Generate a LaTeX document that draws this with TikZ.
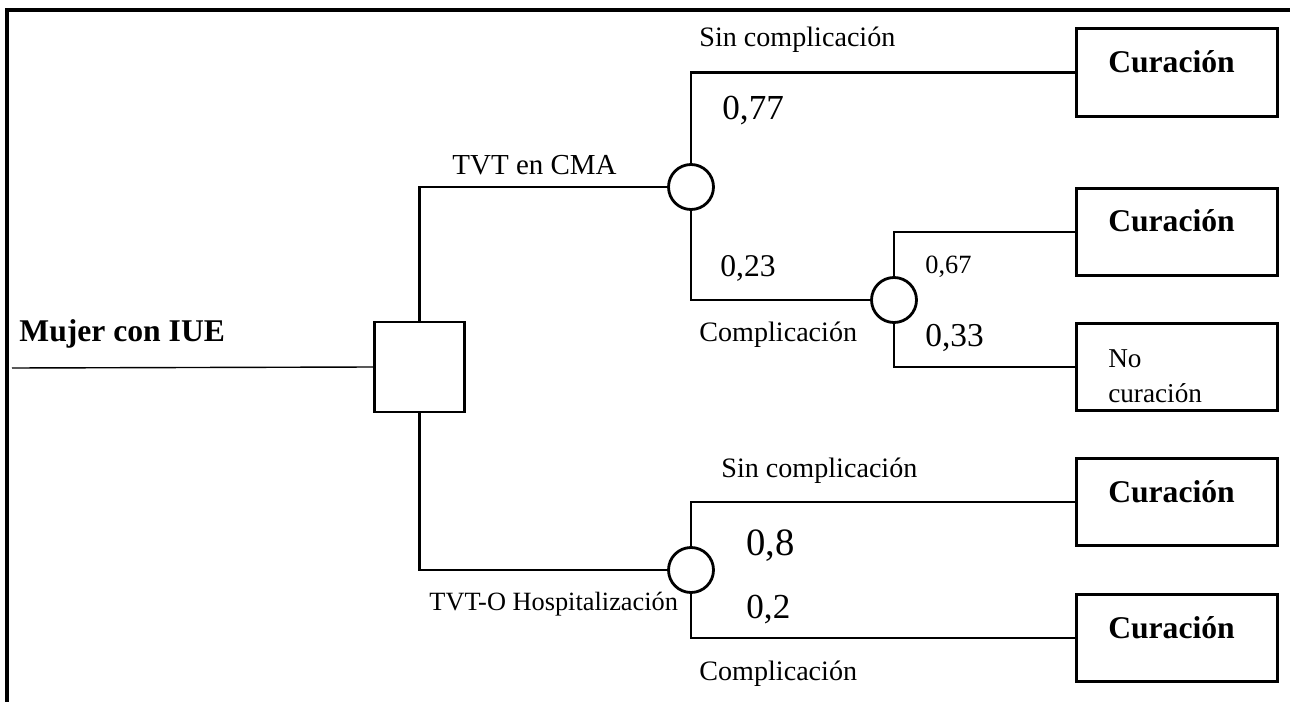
\documentclass[tikz,border=0pt]{standalone}
\usepackage{fontspec}
\setmainfont{Liberation Serif}
\usetikzlibrary{calc}

\begin{document}
\begin{tikzpicture}[x=0.02cm, y=-0.02cm, line width=1.6pt,
    decide/.style = {draw, rectangle, minimum size=1.8cm},
    chance/.style = {draw, circle, minimum size=0.9cm, inner sep=0pt},
    result/.style = {draw, rectangle, line width=1.9pt, minimum width=4cm, minimum height=1.75cm,
                     text width=2.75cm, align=left, inner xsep=0.64cm,
                     text height=0.45cm, text depth=0.45cm, font=\fontsize{15.5}{19}\selectfont},
    cured/.style = {result, font=\fontsize{18}{21}\selectfont\bfseries},
    branch/.style = {anchor=base west, inner sep=0pt, font=\fontsize{16}{19}\selectfont},
    prob/.style = {anchor=base west, inner sep=0pt, font=\fontsize{#1}{24}\selectfont}]
      \useasboundingbox (0,0) rectangle (1290,702);
      \draw [line width=2pt] (1290,10) -- (7,10) -- (7,702);

      \node [decide] (dec) at (419.5,367) {};
      \node [chance] (ch1) at (691,187) {};
      \node [chance] (ch2) at (894,300) {};
      \node [chance] (ch3) at (691,570) {};
      \node [cured] (end1) at (1177,72.5) {Curación};
      \node [cured] (end2) at (1177,232) {Curación};
      \node [result] (end3) at (1177,367) {No\\[1pt]curación};
      \node [cured] (end4) at (1177,502) {Curación};
      \node [cured] (end5) at (1177,638) {Curación};

      \coordinate (in) at (12,368);
      \draw [line width=0.8pt] (in) -- (dec.west);
      \foreach \a/\b/\c in {dec/ch1/north, dec/ch3/south, ch1/end1/north, ch1/ch2/south,
                            ch2/end2/north, ch2/end3/south, ch3/end4/north, ch3/end5/south}
               {
                 \draw (\a.\c) |- (\b.west);
               }

      \node [branch, font=\fontsize{18}{21}\selectfont\bfseries] (root) at (18,341) {Mujer con IUE};
      \node [branch, font=\fontsize{16.5}{19}\selectfont] (arm1) at (451,175) {TVT en CMA};
      \node [branch, font=\fontsize{15}{18}\selectfont] (arm2) at (428,610) {TVT-O Hospitalización};
      \node [branch] (ok1) at (698,47) {Sin complicación};
      \node [branch] (bad1) at (698,341) {Complicación};
      \node [branch] (ok2) at (720,477) {Sin complicación};
      \node [branch] (bad2) at (698,680) {Complicación};
      \node [prob=20] (p1) at (721,120) {0,77};
      \node [prob=18] (p2) at (719,276) {0,23};
      \node [prob=15] (p3) at (924,274) {0,67};
      \node [prob=19] (p4) at (924,346) {0,33};
      \node [prob=22] (p5) at (745,555) {0,8};
      \node [prob=20] (p6) at (745,618) {0,2};
\end{tikzpicture}
\end{document}
